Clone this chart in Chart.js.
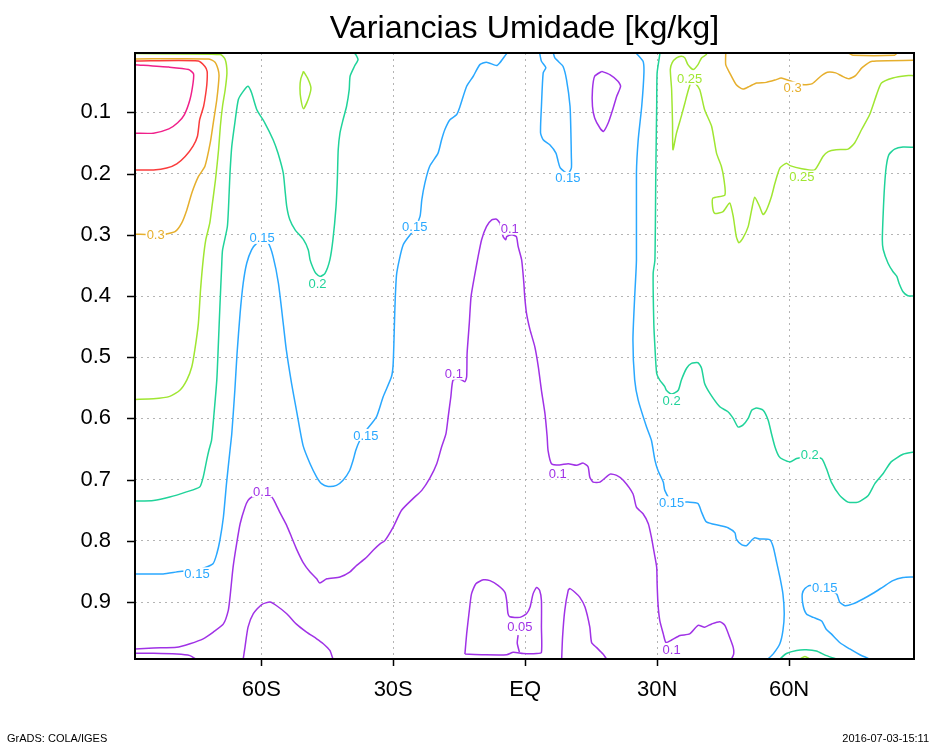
<!DOCTYPE html>
<html><head><meta charset="utf-8">
<script src="https://cdn.jsdelivr.net/npm/chart.js@4/dist/chart.umd.min.js"></script>
<style>html,body{margin:0;padding:0;background:#fff}canvas{display:block}</style>
</head><body>
<div style="width:933px;height:744px"><canvas id="c" width="933" height="744"></canvas></div>
<script>
// ---- text ----
const chartTitle = 'Variancias Umidade [kg/kg]';
const footerLeft = 'GrADS: COLA/IGES';
const footerRight = '2016-07-03-15:11';

// ---- axes ----
const latTicks = [-60, -30, 0, 30, 60];
const latTickLabels = ['60S', '30S', 'EQ', '30N', '60N'];
const sigmaTicks = [0.1, 0.2, 0.3, 0.4, 0.5, 0.6, 0.7, 0.8, 0.9];
const sigmaTickLabels = ['0.1', '0.2', '0.3', '0.4', '0.5', '0.6', '0.7', '0.8', '0.9'];
const latRange = [-88.7, 88.4];
const sigmaRange = [0.003, 0.993];

// ---- contour levels & colours ----
const levels = ['0.05', '0.1', '0.15', '0.2', '0.25', '0.3', '0.35', '0.4'];
const levelColors = ['#a032e6', '#a032e6', '#2aa8ff', '#20d39a', '#a0e632', '#e6af2d', '#fa3c3c', '#f0208a'];

// ---- contour lines: [latitude, sigma] ----
const c040a = [[-88.7,0.022],[-81.0,0.026],[-76.5,0.030],[-75.4,0.037],[-75.5,0.052],[-76.2,0.079],[-77.5,0.104],[-79.0,0.117],[-81.0,0.127],[-84.5,0.134],[-88.7,0.134]];
const c035a = [[-88.7,0.016],[-74.3,0.016],[-72.8,0.025],[-72.3,0.033],[-72.3,0.047],[-72.5,0.063],[-73.1,0.090],[-74.0,0.112],[-74.5,0.139],[-75.5,0.155],[-77.3,0.172],[-79.2,0.184],[-81.5,0.191],[-84.5,0.194],[-88.7,0.194]];
const c030a = [[-88.7,0.0126],[-72.0,0.0126],[-70.5,0.018],[-69.8,0.030],[-69.6,0.041],[-70.1,0.079],[-70.9,0.117],[-71.6,0.150],[-72.8,0.188],[-74.3,0.205],[-75.8,0.232],[-76.9,0.259],[-78.1,0.281],[-79.6,0.295],[-81.9,0.299],[-84.0,0.300],[-88.7,0.299]];
const c030b = [[45.6,0.003],[45.6,0.022],[46.5,0.0355],[48.0,0.055],[49.5,0.062],[51.0,0.0575],[52.6,0.052],[54.8,0.051],[57.1,0.0465],[58.2,0.044],[60.8,0.050],[63.4,0.055],[65.3,0.053],[67.2,0.041],[68.7,0.0345],[70.6,0.0355],[72.1,0.041],[73.6,0.045],[75.1,0.040],[76.6,0.027],[78.9,0.0165],[88.3,0.015]];
const c030c = [[73.5,0.003],[74.5,0.0065],[84.0,0.0065],[84.6,0.003]];
const c025a = [[-88.7,0.004],[-69.3,0.0055],[-68.2,0.0137],[-67.8,0.0355],[-68.2,0.063],[-68.8,0.090],[-69.3,0.123],[-69.7,0.161],[-70.4,0.210],[-71.2,0.254],[-71.7,0.281],[-72.6,0.308],[-73.2,0.341],[-73.8,0.390],[-74.3,0.445],[-75.1,0.488],[-75.8,0.516],[-76.9,0.537],[-78.5,0.554],[-80.8,0.564],[-84.5,0.568],[-88.7,0.569]];
const c025b = [[-50.4,0.033],[-49.4,0.045],[-48.7,0.060],[-49.3,0.078],[-50.4,0.094],[-51.0,0.078],[-51.2,0.060],[-51.0,0.045],[-50.4,0.033]];
const c025c = [[41.2,0.003],[41.2,0.0056],[40.1,0.011],[39.3,0.022],[38.2,0.030],[37.0,0.022],[36.3,0.011],[35.5,0.0083],[34.4,0.011],[33.4,0.019],[33.0,0.030],[33.3,0.063],[33.5,0.117],[33.6,0.161],[34.4,0.134],[35.5,0.1065],[36.3,0.085],[37.0,0.066],[37.8,0.049],[38.6,0.052],[39.7,0.063],[40.8,0.0956],[42.4,0.123],[43.5,0.1665],[44.6,0.188],[45.2,0.210],[45.4,0.235],[42.7,0.240],[42.6,0.254],[43.1,0.265],[45.0,0.262],[46.5,0.248],[47.3,0.270],[48.0,0.303],[48.6,0.313],[49.5,0.3055],[50.7,0.2866],[51.5,0.259],[52.2,0.2385],[53.3,0.254],[54.1,0.267],[54.9,0.259],[56.0,0.2375],[56.8,0.2155],[57.9,0.191],[59.4,0.183],[60.2,0.187],[62.9,0.192],[65.8,0.194],[67.7,0.172],[68.9,0.164],[70.7,0.161],[73.4,0.160],[74.9,0.150],[76.5,0.128],[78.3,0.104],[79.9,0.071],[81.0,0.052],[83.6,0.0437],[86.6,0.040],[88.3,0.040]];
const c025d = [[62.4,0.993],[63.6,0.989],[64.8,0.993]];
const c020a = [[-88.7,0.735],[-84.5,0.734],[-80.8,0.7285],[-77.0,0.720],[-74.0,0.712],[-73.2,0.696],[-72.4,0.668],[-71.9,0.652],[-71.3,0.636],[-70.8,0.5975],[-70.1,0.537],[-69.8,0.488],[-69.4,0.4175],[-69.0,0.352],[-68.8,0.325],[-67.7,0.2865],[-67.3,0.232],[-67.1,0.199],[-66.7,0.1556],[-66.0,0.117],[-65.2,0.079],[-64.1,0.0656],[-63.0,0.0574],[-62.2,0.068],[-61.0,0.0956],[-59.2,0.117],[-57.3,0.1447],[-56.2,0.1665],[-55.0,0.199],[-54.6,0.2265],[-54.2,0.254],[-53.5,0.2756],[-52.3,0.292],[-50.4,0.308],[-49.3,0.3247],[-48.9,0.341],[-48.2,0.3547],[-47.6,0.363],[-46.6,0.368],[-45.5,0.363],[-44.4,0.341],[-43.7,0.308],[-43.0,0.254],[-42.7,0.210],[-42.5,0.161],[-42.1,0.1337],[-41.4,0.112],[-40.6,0.090],[-40.0,0.0628],[-39.8,0.041],[-38.8,0.0247],[-38.0,0.0137],[-38.5,0.0056],[-38.8,0.003]];
const c020b = [[30.6,0.003],[30.6,0.0056],[30.0,0.0355],[29.9,0.090],[29.7,0.199],[29.5,0.341],[29.1,0.363],[29.25,0.445],[29.5,0.483],[29.9,0.5265],[30.6,0.5375],[31.75,0.548],[32.1,0.554],[33.3,0.560],[34.8,0.554],[35.5,0.5375],[36.7,0.518],[37.8,0.510],[39.3,0.509],[40.1,0.518],[40.8,0.543],[42.0,0.559],[44.25,0.581],[46.1,0.589],[47.3,0.600],[48.4,0.614],[49.5,0.611],[50.7,0.600],[51.5,0.5866],[52.6,0.583],[54.1,0.5866],[55.25,0.603],[56.0,0.625],[56.8,0.6466],[57.7,0.662],[58.6,0.667],[60.2,0.671],[61.7,0.6656],[64.7,0.662],[67.4,0.6656],[68.5,0.682],[69.6,0.704],[71.5,0.7257],[73.4,0.7367],[75.7,0.7367],[78.0,0.7257],[79.5,0.7066],[81.4,0.690],[83.2,0.671],[85.9,0.6586],[88.3,0.655]];
const c020c = [[88.3,0.157],[85.9,0.1566],[84.0,0.160],[82.7,0.169],[82.1,0.188],[81.7,0.221],[81.4,0.2646],[81.2,0.308],[81.4,0.324],[82.5,0.3465],[83.6,0.360],[84.5,0.368],[85.0,0.379],[85.9,0.393],[87.0,0.3995],[88.3,0.400]];
const c020d = [[57.9,0.993],[59.4,0.984],[61.7,0.979],[63.9,0.978],[66.2,0.980],[68.5,0.9875],[70.8,0.993]];
const c015a = [[-88.7,0.854],[-82.3,0.854],[-78.5,0.850],[-74.6,0.848],[-71.0,0.8375],[-70.1,0.821],[-69.4,0.799],[-68.6,0.761],[-67.9,0.7065],[-67.1,0.652],[-66.7,0.625],[-66.0,0.554],[-65.5,0.494],[-64.8,0.428],[-64.1,0.379],[-63.3,0.3465],[-62.2,0.3247],[-61.0,0.3137],[-59.8,0.310],[-58.4,0.3137],[-57.3,0.3357],[-56.1,0.379],[-55.0,0.4447],[-54.3,0.488],[-53.1,0.543],[-52.0,0.5866],[-50.5,0.644],[-48.9,0.674],[-47.4,0.6957],[-46.3,0.7066],[-44.8,0.711],[-42.9,0.7093],[-41.4,0.701],[-39.9,0.685],[-39.1,0.668],[-38.5,0.652],[-37.6,0.636],[-36.2,0.620],[-33.8,0.5975],[-32.3,0.565],[-30.4,0.532],[-30.0,0.510],[-29.6,0.4175],[-29.2,0.363],[-27.7,0.316],[-25.1,0.290],[-23.9,0.270],[-23.5,0.243],[-22.8,0.2155],[-21.7,0.188],[-19.8,0.1665],[-19.0,0.1447],[-18.25,0.128],[-17.1,0.112],[-15.6,0.104],[-14.8,0.090],[-13.3,0.0574],[-11.8,0.041],[-10.3,0.022],[-8.8,0.018],[-6.5,0.0236],[-5.75,0.019],[-4.2,0.004],[-3.9,0.003]];
const c015b = [[3.3,0.003],[3.7,0.0165],[4.7,0.027],[4.1,0.0355],[3.7,0.090],[3.5,0.1337],[4.1,0.1447],[5.6,0.153],[7.0,0.1665],[7.5,0.180],[8.0,0.191],[9.7,0.200],[10.5,0.191],[10.5,0.172],[10.4,0.1337],[10.2,0.090],[9.4,0.0465],[8.6,0.0247],[7.5,0.0165],[6.75,0.011],[6.4,0.003]];
const c015c = [[25.2,0.003],[26.8,0.0165],[27.0,0.0355],[26.5,0.090],[25.7,0.1447],[25.3,0.199],[25.3,0.341],[24.9,0.401],[24.5,0.472],[24.9,0.537],[25.7,0.570],[27.6,0.614],[28.7,0.6357],[29.5,0.668],[30.2,0.685],[31.4,0.704],[31.75,0.7175],[33.3,0.735],[37.0,0.7367],[39.3,0.739],[40.1,0.753],[41.2,0.769],[44.25,0.775],[46.1,0.7786],[47.7,0.787],[48.0,0.797],[49.2,0.806],[50.3,0.808],[51.5,0.799],[52.2,0.795],[53.3,0.797],[55.6,0.798],[56.4,0.810],[57.1,0.8325],[57.9,0.859],[58.6,0.8866],[58.9,0.919],[58.6,0.9466],[57.9,0.968],[56.4,0.9846],[55.2,0.993]];
const c015d = [[78.3,0.993],[76.1,0.986],[73.8,0.9766],[71.5,0.966],[69.6,0.952],[68.4,0.944],[67.4,0.931],[65.5,0.925],[64.0,0.920],[63.2,0.906],[63.0,0.8866],[63.6,0.878],[64.7,0.873],[68.1,0.876],[70.8,0.8866],[71.5,0.900],[72.7,0.906],[74.5,0.903],[76.8,0.895],[79.1,0.8856],[81.4,0.875],[83.6,0.865],[85.9,0.860],[88.3,0.859]];
const c010a = [[-88.7,0.9766],[-84.5,0.975],[-79.2,0.974],[-76.2,0.968],[-73.2,0.960],[-70.9,0.949],[-68.6,0.9357],[-67.5,0.914],[-67.1,0.892],[-66.4,0.843],[-65.6,0.805],[-64.8,0.772],[-63.7,0.745],[-63.0,0.734],[-62.2,0.7285],[-61.4,0.727],[-59.8,0.725],[-57.6,0.7285],[-56.9,0.7367],[-55.8,0.753],[-54.2,0.775],[-53.1,0.794],[-52.0,0.813],[-50.5,0.835],[-48.9,0.851],[-47.4,0.862],[-46.7,0.869],[-45.1,0.862],[-42.1,0.859],[-39.9,0.851],[-38.3,0.840],[-36.4,0.829],[-34.5,0.815],[-33.0,0.805],[-31.9,0.7996],[-30.0,0.7776],[-28.1,0.750],[-25.5,0.731],[-23.5,0.7175],[-21.7,0.698],[-20.1,0.674],[-19.0,0.6466],[-18.0,0.6247],[-17.5,0.5975],[-16.9,0.565],[-16.4,0.5375],[-15.0,0.535],[-13.7,0.540],[-13.3,0.532],[-13.2,0.494],[-12.7,0.4447],[-12.3,0.401],[-11.4,0.363],[-10.7,0.3357],[-9.9,0.308],[-8.8,0.2866],[-7.6,0.2756],[-6.5,0.2745],[-5.75,0.281],[-5.0,0.303],[-4.4,0.308],[-4.2,0.303],[-3.0,0.300],[-2.0,0.303],[-1.6,0.319],[-0.8,0.341],[-0.3,0.379],[-0.1,0.401],[0.3,0.428],[1.1,0.455],[2.2,0.483],[3.0,0.516],[3.7,0.554],[4.5,0.592],[5.0,0.630],[5.2,0.652],[6.0,0.674],[7.8,0.676],[9.8,0.674],[11.7,0.6766],[13.2,0.673],[14.3,0.679],[14.7,0.696],[15.45,0.704],[17.0,0.704],[19.3,0.691],[20.8,0.693],[22.3,0.701],[24.5,0.723],[25.3,0.745],[26.8,0.7557],[28.0,0.772],[28.7,0.794],[29.25,0.816],[29.9,0.843],[30.0,0.870],[30.2,0.903],[30.6,0.930],[31.4,0.952],[32.0,0.966],[33.3,0.962],[35.2,0.9546],[37.4,0.952],[39.3,0.938],[40.8,0.941],[42.4,0.9357],[44.25,0.932],[45.4,0.938],[46.5,0.9576],[47.3,0.974],[47.4,0.985],[46.9,0.993]];
const c010b = [[17.4,0.033],[19.25,0.0383],[21.1,0.049],[21.7,0.0574],[20.8,0.074],[19.9,0.0956],[18.9,0.117],[17.8,0.131],[17.0,0.1255],[15.8,0.109],[15.3,0.090],[15.3,0.0628],[15.8,0.041],[17.4,0.033]];
const c005a = [[-13.7,0.985],[-13.3,0.952],[-12.7,0.914],[-12.2,0.8866],[-11.2,0.870],[-9.5,0.8637],[-8.0,0.865],[-6.1,0.873],[-4.6,0.884],[-4.2,0.8976],[-3.9,0.919],[-3.5,0.924],[-1.2,0.925],[0.3,0.919],[1.1,0.9085],[1.8,0.8866],[2.6,0.876],[3.3,0.881],[3.7,0.8976],[3.7,0.941],[3.7,0.982],[2.6,0.984],[-0.45,0.984],[-2.7,0.982],[-4.2,0.986],[-9.5,0.986],[-13.7,0.985]];
const c005b = [[-1.6,0.954],[-1.8,0.967],[-1.3,0.982]];
const c005c = [[-64.1,0.993],[-63.7,0.974],[-63.0,0.941],[-61.8,0.919],[-59.9,0.904],[-58.0,0.900],[-56.5,0.906],[-54.2,0.919],[-52.0,0.936],[-49.7,0.949],[-47.4,0.960],[-45.9,0.968],[-44.4,0.979],[-43.7,0.993]];
const c005d = [[-88.7,0.9838],[-84.5,0.9838],[-79.2,0.985],[-76.2,0.9875],[-74.9,0.993]];
const c005e = [[8.3,0.993],[8.5,0.9576],[9.0,0.914],[9.8,0.8805],[10.2,0.878],[11.3,0.884],[12.4,0.892],[13.6,0.908],[14.7,0.941],[15.1,0.966],[16.2,0.974],[17.7,0.985],[18.5,0.993]];

const contourLines = [
  ['0.4', c040a], ['0.35', c035a], ['0.3', c030a], ['0.3', c030b], ['0.3', c030c],
  ['0.25', c025a], ['0.25', c025b], ['0.25', c025c], ['0.25', c025d],
  ['0.2', c020a], ['0.2', c020b], ['0.2', c020c], ['0.2', c020d],
  ['0.15', c015a], ['0.15', c015b], ['0.15', c015c], ['0.15', c015d],
  ['0.1', c010a], ['0.1', c010b],
  ['0.05', c005a], ['0.05', c005b], ['0.05', c005c], ['0.05', c005d], ['0.05', c005e]
];

// ---- contour labels ----
const labelText  = ['0.3','0.15','0.2','0.15','0.1','0.15','0.25','0.3','0.25','0.1','0.15','0.2','0.1','0.1','0.2','0.15','0.15','0.15','0.05','0.1'];
const labelLat   = [-84.0,-59.8,-47.2,-25.1,-3.5,9.7,37.4,60.8,62.9,-16.2,-36.2,33.3,-59.8,7.4,64.7,33.3,-74.6,68.1,-1.2,33.3];
const labelSigma = [0.300,0.305,0.379,0.287,0.290,0.207,0.045,0.0595,0.205,0.527,0.627,0.570,0.719,0.690,0.659,0.737,0.853,0.876,0.940,0.977];

const colorOf = lv => levelColors[levels.indexOf(lv)];

const datasets = contourLines.map(([lv, pts]) => ({
  label: lv,
  data: pts.map(p => ({x: p[0], y: p[1]})),
  showLine: true,
  borderColor: colorOf(lv),
  backgroundColor: colorOf(lv),
  borderWidth: 1.5,
  pointRadius: 0,
  tension: 0.2,
  fill: false
}));

const FONT = '"Liberation Sans", "DejaVu Sans", sans-serif';

const gradsPlugin = {
  id: 'grads',
  afterDatasetsDraw(chart) {
    const {ctx, scales: {x, y}} = chart;
    ctx.save();
    ctx.font = '13px ' + FONT;
    ctx.textAlign = 'center';
    ctx.textBaseline = 'middle';
    labelText.forEach((t, i) => {
      const px = x.getPixelForValue(labelLat[i]);
      const py = y.getPixelForValue(labelSigma[i]);
      const w = ctx.measureText(t).width;
      ctx.fillStyle = '#fff';
      ctx.fillRect(px - w / 2 - 1, py - 6, w + 2, 12);
      ctx.fillStyle = colorOf(t);
      ctx.fillText(t, px, py + 1);
    });
    ctx.restore();
  },
  afterDraw(chart) {
    const {ctx, chartArea: a, scales: {x, y}} = chart;
    ctx.save();
    // frame
    ctx.strokeStyle = '#000';
    ctx.lineWidth = 2;
    ctx.strokeRect(a.left, a.top, a.right - a.left, a.bottom - a.top);
    // tick marks
    ctx.lineWidth = 1.5;
    ctx.beginPath();
    sigmaTicks.forEach(v => {
      const py = Math.round(y.getPixelForValue(v)) + 0.5;
      ctx.moveTo(a.left - 8, py); ctx.lineTo(a.left, py);
    });
    latTicks.forEach(v => {
      const px = Math.round(x.getPixelForValue(v)) + 0.5;
      ctx.moveTo(px, a.bottom); ctx.lineTo(px, a.bottom + 7);
    });
    ctx.stroke();
    // title
    ctx.fillStyle = '#000';
    ctx.font = '32px ' + FONT;
    const tw = ctx.measureText(chartTitle).width;
    const fs = 32 * 390 / tw;
    ctx.font = fs.toFixed(1) + 'px ' + FONT;
    ctx.textAlign = 'center';
    ctx.textBaseline = 'alphabetic';
    ctx.fillText(chartTitle, (a.left + a.right) / 2, 38);
    // footer
    ctx.font = '11px ' + FONT;
    ctx.textAlign = 'left';
    ctx.fillText(footerLeft, 7, 742);
    ctx.textAlign = 'right';
    ctx.fillText(footerRight, 929, 742);
    ctx.restore();
  }
};

new Chart(document.getElementById('c'), {
  type: 'scatter',
  data: { datasets },
  options: {
    responsive: false,
    devicePixelRatio: 1,
    animation: false,
    events: [],
    layout: { padding: { left: 0, right: 19, top: 53, bottom: 0 } },
    plugins: { legend: { display: false }, tooltip: { enabled: false }, title: { display: false } },
    scales: {
      x: {
        type: 'linear',
        min: latRange[0], max: latRange[1],
        afterBuildTicks: s => { s.ticks = latTicks.map(v => ({ value: v })); },
        afterFit: s => { s.height = 85; },
        ticks: {
          autoSkip: false, maxRotation: 0, padding: 18, color: '#000',
          font: { family: FONT, size: 22 },
          callback: v => latTickLabels[latTicks.indexOf(v)]
        },
        grid: { color: '#b4b4b4', lineWidth: 1, drawTicks: false },
        border: { display: false, dash: [2, 4] }
      },
      y: {
        type: 'linear',
        reverse: true,
        min: sigmaRange[0], max: sigmaRange[1],
        afterBuildTicks: s => { s.ticks = sigmaTicks.map(v => ({ value: v })); },
        afterFit: s => { s.width = 135; },
        ticks: {
          autoSkip: false, padding: 24, color: '#000',
          font: { family: FONT, size: 22 },
          callback: v => sigmaTickLabels[sigmaTicks.indexOf(v)]
        },
        grid: { color: '#b4b4b4', lineWidth: 1, drawTicks: false },
        border: { display: false, dash: [2, 4] }
      }
    }
  },
  plugins: [gradsPlugin]
});
</script>
</body></html>
